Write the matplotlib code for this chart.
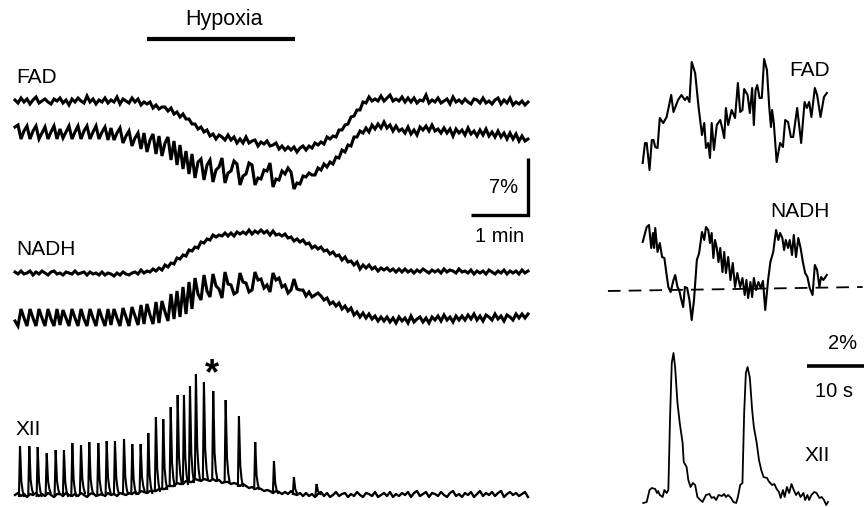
import numpy as np
import matplotlib
matplotlib.use("Agg")
import matplotlib.pyplot as plt

plt.rcParams['font.family'] = ['Liberation Sans', 'DejaVu Sans']

# ------------------------------------------------------------------
# DATA  (signals in arbitrary fluorescence units, 57 a.u. = 7 %)
# ------------------------------------------------------------------
# Slow recordings (left): 172 samples spanning 545 s
slow_duration_s = 545.0
fad_top = [1, -2, 3, -1, 2, -3, 1, 4, -2, 0,
           2, -1, -3, 2, 0, 3, -2, 1, -4, 2,
           -1, 3, 0, -2, 5, -1, 2, -3, 1, -1,
           3, -2, 1, -1, 4, -3, 2, 0, -2, 3,
           -1, 2, -4, -1, -3, -1, -7, -4, -8, -6,
           -6, -10, -7, -13, -11, -16, -13, -18, -18, -23,
           -23, -28, -26, -31, -29, -35, -33, -38, -34, -36,
           -39, -34, -39, -36, -42, -38, -42, -36, -42, -40,
           -39, -45, -41, -43, -40, -45, -44, -42, -48, -45,
           -49, -46, -49, -46, -51, -47, -45, -49, -45, -47,
           -42, -44, -41, -43, -36, -38, -35, -36, -29, -29,
           -24, -23, -16, -15, -9, -9, -1, -2, 4, 0,
           2, 0, 5, 0, 3, 6, 0, 2, 0, 4,
           -1, 3, -1, 3, -2, 1, 0, 6, -2, 1,
           -1, 3, -2, 0, 2, -3, 4, -1, 1, -2,
           2, -1, -3, 2, 1, -2, 3, -2, 0, -3,
           1, 3, -3, 1, -2, 3, -4, -1, -3, 0,
           -4, -1]
fad_bottom = [5, 7, -7, 1, 6, -7, 1, 6, -7, -1,
              5, -7, 0, 6, -7, 3, -6, 0, 6, -7,
              0, 6, -7, 1, 6, -7, 0, 6, -7, 0,
              5, -8, 4, -8, -1, 4, -11, -4, 1, -14,
              -6, -1, -17, -1, -20, -8, -2, -22, -4, -24,
              -11, -5, -28, -9, -33, -13, -37, -19, -42, -22,
              -46, -30, -27, -48, -33, -28, -50, -38, -35, -26,
              -51, -41, -39, -29, -32, -53, -44, -42, -31, -33,
              -53, -46, -47, -38, -39, -31, -55, -47, -48, -39,
              -42, -36, -40, -57, -51, -52, -44, -45, -41, -43,
              -43, -36, -38, -32, -35, -30, -32, -25, -26, -18,
              -20, -13, -14, -5, -5, 1, -1, 4, 0, 7,
              3, 8, 4, 10, 4, 7, 1, 6, 1, 3,
              -1, 5, -2, 2, -3, 5, 2, 6, 1, 7,
              1, 3, -1, 4, -1, 3, -4, 3, -1, 2,
              -3, 4, -2, 1, -4, 2, -3, 3, -4, 0,
              -5, 1, -5, -1, -7, -1, -7, -2, -9, -4,
              -9, -7]
nadh_top = [1, -1, 2, -1, 0, 2, -2, 1, -1, 2,
            0, -2, 1, 2, -1, 0, -2, 1, 0, -1,
            2, -1, 0, 1, -2, 1, -1, 0, -2, 1,
            -2, 0, -1, -3, 0, -2, 1, -1, -2, 0,
            1, -1, 3, 0, 2, 1, 4, 2, 5, 3,
            8, 6, 10, 9, 15, 14, 18, 17, 23, 22,
            26, 25, 31, 30, 34, 33, 38, 36, 38, 37,
            40, 37, 40, 37, 41, 39, 41, 39, 43, 39,
            42, 40, 43, 40, 42, 38, 42, 38, 39, 37,
            39, 35, 36, 32, 34, 31, 33, 29, 30, 25,
            27, 24, 26, 22, 23, 19, 21, 17, 18, 13,
            16, 11, 12, 8, 11, 4, 8, 5, 8, 4,
            6, 2, 5, 3, 5, 2, 4, 1, 4, 1,
            4, 1, 3, 0, 3, 1, 4, 2, 0, 3,
            1, 3, 0, 4, 1, 3, 2, 0, 4, 1,
            2, 0, 3, -1, 2, 0, 2, -1, 3, 1,
            -1, 2, 0, 3, -1, 2, 0, 2, -1, 3,
            0, 2]
nadh_bottom = [-3, -8, 9, 0, -8, 9, 0, -8, 9, 0,
               -8, 9, -1, -8, 9, -7, 8, 0, -8, 9,
               0, -8, 9, -1, -8, 9, 0, -8, 9, 0,
               -8, 9, -7, 9, 0, -8, 10, 1, -8, 11,
               2, -7, 13, -6, 14, 3, -6, 16, -5, 17,
               6, -3, 24, -1, 27, 1, 31, 4, 36, 9,
               40, 24, 18, 43, 27, 21, 44, 32, 29, 20,
               46, 34, 33, 24, 26, 45, 36, 35, 26, 28,
               46, 38, 39, 30, 33, 26, 45, 38, 40, 31,
               33, 25, 28, 39, 29, 28, 28, 22, 26, 21,
               23, 25, 22, 18, 20, 14, 16, 12, 15, 9,
               12, 7, 10, 3, 6, 1, 5, 0, 4, -1,
               2, -3, 1, -3, 1, -4, 0, -5, 1, -3,
               0, -5, 2, -4, -1, 1, -4, 0, -5, 1,
               -2, 2, -3, 3, -2, 1, -4, 2, -2, 2,
               -2, 3, -1, 4, -2, 2, -3, 3, 1, -2,
               4, -1, 2, -3, 3, 1, -2, 4, 0, 4,
               0, 4]
xii_base = [0, 2, -1, 1, -2, 1, 0, 2, -1, 1,
            -1, 2, 0, -2, 1, 1, -1, 2, 0, -1,
            1, -1, 2, 0, -2, 1, 2, -1, 0, 1,
            -1, 2, 0, 1, -1, 2, 1, 0, 2, 1,
            3, 1, 4, 3, 2, 4, 4, 4, 6, 6,
            6, 9, 9, 9, 12, 11, 11, 14, 13, 13,
            16, 15, 14, 16, 15, 14, 16, 14, 15, 12,
            13, 13, 11, 12, 11, 9, 11, 9, 7, 8,
            6, 7, 6, 4, 5, 4, 2, 4, 3, 1,
            3, 1, 4, 1, 0, 2, -1, 2, -1, 1,
            -2, 1, 3, -1, 2, -2, 0, 3, -1, 1,
            2, -2, 1, -1, 3, 0, -2, 2, 1, -1,
            3, -2, 0, 2, -1, 3, -2, 1, -1, 2,
            0, 3, -2, 2, 4, -1, 1, 3, -2, 2,
            1, -1, 3, 0, -2, 2, 4, -1, 1, -2,
            2, 0, 3, -2, 1, 4, -1, 2, 0, 3,
            -1, 2, 4, -2, 1, 3, 0, 2, -1, 1,
            3, -2]
# XII inspiratory bursts (time of peak, s; peak amplitude, a.u.)
xii_burst_t = [5.3, 15.2, 24.1, 33.7, 43.2, 52.0, 60.9, 70.1, 78.9, 88.5,
               97.4, 106.2, 115.8, 124.6, 133.5, 141.6, 149.7, 157.5, 165.4,
               172.8, 179.5, 185.9, 192.2, 200.7, 210.6, 223.8, 237.9, 255.2,
               275.1, 296.3, 320.4]
xii_burst_peak = [49, 49, 48, 42, 45, 45, 52, 50, 53, 52,
                  54, 54, 56, 51, 51, 62, 78, 76, 88,
                  100, 100, 109, 121, 113, 104, 95, 79, 53,
                  34, 18, 11]
hypoxia_on_s, hypoxia_off_s = 140, 297

# Fast recordings (right, expanded time base)
fad_fast_t = [0.0, 0.4, 0.7, 1.2, 1.6, 1.9, 2.2, 2.6, 3.0, 3.6,
              4.2, 5.0, 5.4, 6.2, 6.8, 7.4, 7.8, 8.2, 8.6, 9.2,
              9.8, 10.4, 10.8, 11.1, 11.5, 11.8, 12.1, 12.5, 13.0, 13.6,
              13.9, 14.3, 14.6, 15.0, 15.6, 16.2, 16.7, 17.1, 17.5, 17.8,
              18.4, 18.8, 19.2, 19.5, 19.8, 20.1, 20.5, 20.9, 21.3, 21.8,
              22.2, 22.5, 22.7, 23.0, 23.5, 24.1, 24.6, 25.0, 25.5, 26.0,
              26.4, 27.1, 27.8, 28.4, 28.8, 29.2, 29.6, 30.2, 30.6, 31.2,
              31.8, 32.3]
fad_fast = [12, 32, 32, 5, 35, 35, 28, 27, 57, 52,
            58, 80, 63, 75, 80, 75, 78, 73, 113, 102,
            68, 40, 52, 27, 32, 17, 52, 25, 50, 55,
            48, 37, 67, 50, 65, 57, 92, 63, 65, 86,
            80, 62, 87, 50, 85, 90, 77, 77, 116, 105,
            68, 48, 65, 52, 13, 32, 28, 55, 53, 38,
            38, 67, 32, 73, 67, 73, 58, 87, 80, 58,
            78, 82]
nadh_fast_t = [0.0, 0.7, 1.1, 1.5, 1.8, 2.0, 2.2, 2.6, 3.0, 3.4,
               3.8, 4.2, 4.5, 4.9, 5.4, 5.7, 6.1, 6.4, 6.7, 7.1,
               7.4, 7.8, 8.2, 8.6, 9.0, 9.5, 9.9, 10.4, 10.8, 11.1,
               11.5, 11.8, 12.1, 12.4, 12.7, 13.0, 13.3, 13.6, 14.0, 14.3,
               14.6, 15.0, 15.4, 15.8, 16.2, 16.6, 17.1, 17.5, 17.9, 18.2,
               18.5, 18.9, 19.2, 19.5, 19.9, 20.3, 20.7, 21.1, 21.5, 22.0,
               22.4, 22.9, 23.4, 23.8, 24.1, 24.5, 24.8, 25.1, 25.5, 25.8,
               26.2, 26.5, 26.9, 27.3, 27.7, 28.1, 28.5, 28.9, 29.3, 29.8,
               30.2, 30.6, 31.0, 31.3, 31.7, 32.3]
nadh_fast = [58, 73, 75, 52, 67, 52, 72, 48, 57, 43,
             42, 25, 13, 8, 20, 25, 13, 10, 2, -7,
             13, 12, 0, -20, 0, 40, 47, 68, 60, 73,
             70, 57, 67, 42, 60, 52, 38, 52, 28, 48,
             27, 43, 20, 37, 13, 27, 13, 22, 5, 20,
             2, 18, 3, 22, 10, 18, 12, 19, -10, 20,
             38, 48, 70, 60, 67, 62, 50, 60, 52, 60,
             45, 65, 43, 62, 52, 38, 27, 23, 12, 5,
             35, 30, 13, 23, 20, 25]
nadh_fast_ref_t = [-6.1, 38.6]
nadh_fast_ref = [9, 13]
xii_fast_t = [0.1, 0.7, 1.2, 1.6, 2.2, 2.5, 2.7, 3.0, 3.5, 3.8,
              4.2, 4.5, 4.8, 5.1, 5.4, 5.7, 6.1, 6.5, 7.0, 7.2,
              7.7, 8.0, 8.4, 8.8, 9.2, 9.6, 10.1, 10.5, 11.1, 11.7,
              12.1, 12.5, 12.9, 13.3, 13.9, 14.3, 14.6, 15.0, 15.5, 15.9,
              16.4, 16.7, 17.1, 17.5, 17.8, 18.1, 18.4, 18.8, 19.2, 19.5,
              20.0, 20.4, 20.8, 21.2, 21.8, 22.2, 22.7, 23.1, 23.5, 23.9,
              24.2, 24.6, 24.9, 25.3, 25.7, 26.1, 26.5, 26.9, 27.3, 27.7,
              28.2, 28.5, 28.9, 29.2, 29.6, 30.1, 30.5, 31.0, 31.4, 31.8,
              32.2, 32.5]
xii_fast = [2, 3, 15, 17, 16, 12, 14, 10, 8, 15,
            12, 15, 88, 142, 152, 137, 102, 82, 62, 43,
            38, 25, 18, 22, 20, 8, 5, 3, 10, 11,
            7, 8, 5, 10, 9, 11, 8, 10, 7, 3,
            2, 8, 20, 22, 92, 132, 138, 127, 95, 78,
            62, 45, 35, 28, 27, 23, 20, 21, 16, 13,
            7, 15, 8, 18, 12, 21, 15, 10, 13, 8,
            12, 5, 10, 5, 10, 13, 12, 7, 8, 5,
            0, 3]

scale_pct_slow = 7
au_per_pct = 57 / 7
scale_time_slow_s = 60
scale_time_fast_s = 10

# ------------------------------------------------------------------
# FIGURE
# ------------------------------------------------------------------
W, H = 865, 507
fig = plt.figure(figsize=(W / 100, H / 100), dpi=100)
fig.patch.set_facecolor('white')

k_left = slow_duration_s / 513.0       # s per pixel, left panel
ax_l = fig.add_axes([0, 0, 1, 1])
ax_l.set_xlim(-15 * k_left, (W - 15) * k_left)
ax_l.set_ylim(0, H)
ax_l.axis('off')

px_per_s_fast = 5.7
ax_r = fig.add_axes([0, 0, 1, 1])
ax_r.set_xlim(-642.7 / px_per_s_fast, (W - 642.7) / px_per_s_fast)
ax_r.set_ylim(0, H)
ax_r.axis('off')
ax_r.patch.set_alpha(0)

t_slow = np.linspace(0, slow_duration_s, len(fad_top))
trace_kw = dict(color='black', lw=2.2, solid_joinstyle='miter')

# left traces (vertical offsets only place them on the page)
ax_l.plot(t_slow, np.array(fad_top) + 406, **trace_kw)
ax_l.plot(t_slow, np.array(fad_bottom) + 375, **trace_kw)
ax_l.plot(t_slow, np.array(nadh_top) + 234, **trace_kw)
ax_l.plot(t_slow, np.array(nadh_bottom) + 189, **trace_kw)

xii_off = 12
base = np.array(xii_base)
ax_l.plot(t_slow, base + xii_off, color='black', lw=1.7)
for tb, pk in zip(xii_burst_t, xii_burst_peak):
    j = int(np.argmin(np.abs(t_slow - tb)))
    b = base[j]
    ax_l.plot([tb - 1.1, tb, tb + 1.4, tb + 2.8, tb + 4.2],
              np.array([b, pk, b + 0.3 * (pk - b), b + 0.1 * (pk - b), b]) + xii_off,
              color='black', lw=1.5, solid_joinstyle='miter')

# hypoxia bar
ax_l.plot([hypoxia_on_s, hypoxia_off_s], [468, 468], color='black', lw=3.0,
          solid_capstyle='butt')

# scale bar (7 %, 1 min)
xc = 544.5
y0 = 292.5
ax_l.plot([xc - scale_time_slow_s, xc, xc],
          [y0, y0, y0 + scale_pct_slow * au_per_pct],
          color='black', lw=2.4, solid_capstyle='butt', solid_joinstyle='miter')

# right traces
fast_kw = dict(color='black', lw=1.5, solid_joinstyle='round')
ax_r.plot(fad_fast_t, np.array(fad_fast) + 332, **fast_kw)
ax_r.plot(nadh_fast_t, np.array(nadh_fast) + 207, **fast_kw)
ax_r.plot(nadh_fast_ref_t, np.array(nadh_fast_ref) + 207, color='black',
          lw=1.3, linestyle=(0, (7, 4.5)))
ax_r.plot(xii_fast_t, np.array(xii_fast) + 2, color='black', lw=1.3,
          solid_joinstyle='round')
ax_r.plot([28.8, 28.8 + scale_time_fast_s], [141, 141], color='black', lw=2.6,
          solid_capstyle='butt')


def ftxt(x, y, s, **kw):
    fig.text(x / W, 1 - y / H, s, **kw)


ftxt(224, 25, 'Hypoxia', ha='center', va='baseline', fontsize=15.5)
ftxt(16, 83, 'FAD', ha='left', va='baseline', fontsize=15)
ftxt(16, 255, 'NADH', ha='left', va='baseline', fontsize=15)
ftxt(16, 435, 'XII', ha='left', va='baseline', fontsize=15)
ftxt(212, 384, '*', ha='center', va='baseline', fontsize=26, fontweight='bold')
ftxt(518, 193, '7%', ha='right', va='baseline', fontsize=14.5)
ftxt(475, 242, '1 min', ha='left', va='baseline', fontsize=14.5)

ftxt(830, 76, 'FAD', ha='right', va='baseline', fontsize=15)
ftxt(830, 217, 'NADH', ha='right', va='baseline', fontsize=15)
ftxt(830, 461, 'XII', ha='right', va='baseline', fontsize=15)
ftxt(857, 349, '2%', ha='right', va='baseline', fontsize=14.5)
ftxt(853, 397, '10 s', ha='right', va='baseline', fontsize=14.5)

fig.savefig('out.png', dpi=100, facecolor='white')
